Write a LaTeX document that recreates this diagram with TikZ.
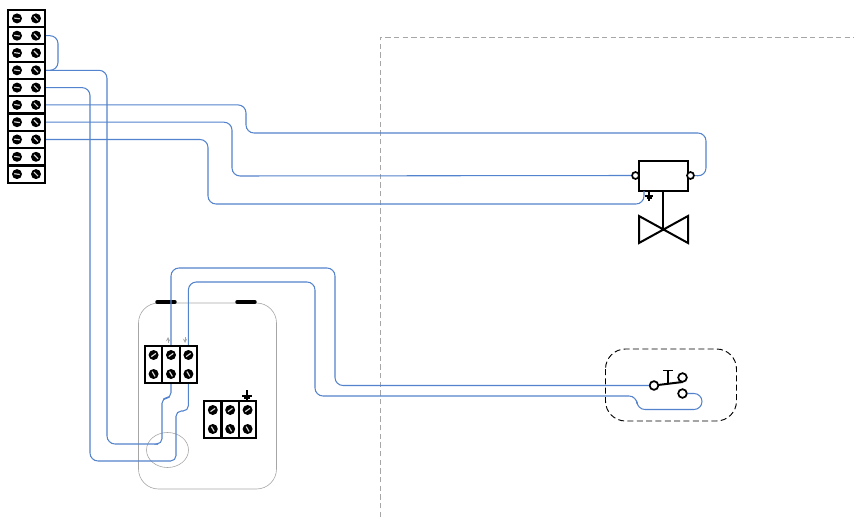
\documentclass[tikz,border=0pt]{standalone}
\usetikzlibrary{calc}
\definecolor{wireblue}{HTML}{5383CC}
\def\screw(#1)(#2){\fill[black] (#1) circle (5);
	\draw[white!85!black, line width=0.9pt, rotate around={#2:(#1)}] ($(#1)+(-2.8,0)$) -- ($(#1)+(2.8,0)$);}
\tikzset{
	wire/.style={color=wireblue, line width=0.8pt, rounded corners=6},
	jog/.style={color=wireblue, line width=0.8pt, rounded corners=4},
	rowcell/.style={draw, line width=1.6pt, inner sep=0, minimum width=27.7pt, minimum height=13pt},
	blockcell/.style={draw, line width=1.6pt, inner sep=0, minimum width=13pt, minimum height=27.7pt},
	port/.style={circle, draw, line width=1.3pt, fill=white, inner sep=0, minimum size=5.2pt},
	guide/.style={color=black!35, line width=0.45pt},
}
\begin{document}
\begin{tikzpicture}[x=0.75pt, y=-0.75pt]
	\useasboundingbox (0, 0) rectangle (854, 517);

	%%%%% boundary %%%%%
	\draw[guide, dash pattern=on 4pt off 2.5pt] (380, 517) -- (380, 37) -- (854, 37);

	%%%%% enclosure %%%%%
	\draw[guide, rounded corners=15] (138.5, 303) rectangle (276.5, 489);
	\draw[guide] (167.5, 450) ellipse (21 and 17.5);
	\draw[line width=2.6pt, line cap=round] (157, 302) -- (175, 302);
	\draw[line width=2.6pt, line cap=round] (237, 302) -- (255, 302);

	%%%%% terminal strip %%%%%
	\foreach \n in {1,...,10} {
		\node[rowcell] (row\n) at (26.5, {18.4 + (\n - 1)*17.3}) {};
	}
	\foreach \n in {1,...,10} {
		\screw(17, {18.4 + (\n - 1)*17.3})(-8);
		\screw(36, {18.4 + (\n - 1)*17.3})(-45);
	}

	%%%%% blocks %%%%%
	\foreach \n/\x in {1/153.6, 2/171, 3/188.4} {
		\node[blockcell] (blockA\n) at (\x, 364.5) {};
		\screw(\x, 355)(35);
		\screw(\x, 374)(-60);
	}
	\foreach \n/\x in {1/212.8, 2/230.2, 3/247.6} {
		\node[blockcell] (blockB\n) at (\x, 419.5) {};
		\screw(\x, 410)(35);
		\screw(\x, 429)(-60);
	}

	% small marks over the block
	\draw[guide, ->, >=stealth] (168, 343) -- (168, 337);
	\draw[guide, ->, >=stealth] (185, 337) -- (185, 343);

	% earth over second block
	\draw[line width=1pt] (247, 390) -- (247, 396);
	\draw[line width=1.3pt] (242, 396) -- (252, 396);
	\draw[line width=1.1pt] (244, 398) -- (250, 398);
	\draw[line width=0.9pt] (246, 400) -- (248, 400);

	%%%%% actuator and valve %%%%%
	\node[draw, line width=1.5pt, inner sep=0, minimum width=36.5pt, minimum height=22.5pt] (actuator) at (663.5, 175.8) {};
	\node[port] (portL) at (635.5, 175.5) {};
	\node[port] (portR) at (690.5, 175.5) {};
	\coordinate (valve) at (663, 229.5);
	\draw[line width=1.5pt] (actuator.south -| valve) -- (valve);
	\draw[line width=1.5pt] (639, 216) -- (639, 243) -- (688, 216) -- (688, 243) -- cycle;
	\coordinate (earthtap) at (644, 191);

	% earth under actuator
	\draw[line width=0.9pt] (649, 191) -- (649, 196);
	\draw[line width=1.2pt] (645, 196) -- (653, 196);
	\draw[line width=1pt] (646.5, 198) -- (651.5, 198);
	\draw[line width=0.8pt] (648, 200) -- (650, 200);

	%%%%% switch %%%%%
	\draw[line width=0.7pt, dash pattern=on 4.5pt off 2.5pt, rounded corners=15] (605.5, 349) rectangle (736.5, 421);
	\node[port, minimum size=6.5pt] (swCom) at (654, 385.5) {};
	\node[port, minimum size=6.5pt] (swNO) at (682.5, 377.5) {};
	\node[port, minimum size=6.5pt] (swNC) at (682.5, 393.5) {};
	\draw[line width=1.5pt] (swCom) -- (swNO |- 0, 382);
	\draw[line width=1.2pt] (668, 383) -- (668, 370.5);
	\draw[line width=1.2pt] (663, 370.5) -- (673, 370.5);

	%%%%% wiring %%%%%
	\draw[wire] (row2.east) -| (58, 53) |- (row4.east);
	\draw[wire] (row4.east) -| (107, 444) -- (158, 444);
	\draw[jog] (158, 444) -| (162, 398) -| (blockA2.south);
	\draw[wire] (row5.east) -| (90, 461) -- (170, 461);
	\draw[jog] (170, 461) -| (176, 411) -| (blockA3.south);
	\draw[wire] (row6.east) -| (246, 133) -| (706, 176) -- (portR);
	\draw[wire] (row7.east) -| (232, 176) -- (portL);
	\draw[wire] (row8.east) -| (208, 204) -| (earthtap);
	\draw[wire] (blockA2.north) |- (335, 268) |- (swCom);
	\draw[wire] (blockA3.north) |- (315, 282) |- (637, 396) |- (702, 409.5) |- (swNC);
\end{tikzpicture}
\end{document}
